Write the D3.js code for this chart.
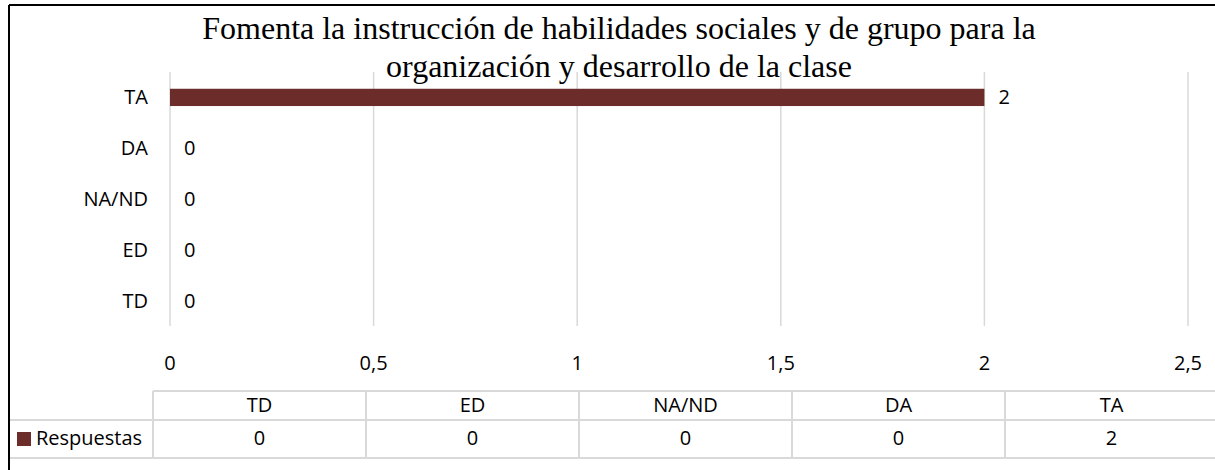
<!DOCTYPE html>
<html>
<head>
<meta charset="utf-8">
<script src="https://cdn.jsdelivr.net/npm/d3@7"></script>
<style>
  body { margin: 0; background: #fff; }
  svg { display: block; }
</style>
</head>
<body>
<div id="chart"></div>
<script>
// Data
const categories = ['TD', 'ED', 'NA/ND', 'DA', 'TA'];
const respuestas = [0, 0, 0, 0, 2];
const xTicks = [0, 0.5, 1, 1.5, 2, 2.5];
const seriesName = 'Respuestas';
const titleLines = [
    'Fomenta la instrucción de habilidades sociales y de grupo para la',
    'organización y desarrollo de la clase'
];

const width = 1215, height = 470;
const barColor = '#6b2c2a';
const gridColor = '#d9d9d9';
const labelFont = '"Open Sans", "Noto Sans", sans-serif';
const labelSize = '20px';
const capShift = 7; // half cap height, to centre text vertically

const svg = d3.select('#chart').append('svg')
    .attr('width', width)
    .attr('height', height);

// outer frame (left and top edges visible)
svg.append('line').attr('x1', 9).attr('y1', 5).attr('x2', width).attr('y2', 5)
    .style('stroke', '#000').style('stroke-width', 2);
svg.append('line').attr('x1', 9).attr('y1', 5).attr('x2', 9).attr('y2', height)
    .style('stroke', '#000').style('stroke-width', 2);

// title
svg.append('text')
    .attr('text-anchor', 'middle')
    .style('font-family', '"Liberation Serif", "Times New Roman", serif')
    .style('font-size', '32px')
    .style('fill', '#000')
    .selectAll('tspan')
    .data(titleLines)
    .join('tspan')
    .attr('x', 619)
    .attr('y', (d, i) => 39 + i * 38)
    .text(d => d);

// scales
const x = d3.scaleLinear().domain([0, 2.5]).range([170, 1188]);
const y = d3.scaleBand().domain(categories.slice().reverse()).range([72, 326]).paddingInner(0.66).paddingOuter(0.33);

// gridlines
svg.append('g')
    .selectAll('line')
    .data(xTicks)
    .join('line')
    .attr('x1', d => x(d)).attr('x2', d => x(d))
    .attr('y1', 72).attr('y2', 326)
    .style('stroke', gridColor)
    .style('stroke-width', 1.5);

// x axis labels
const fmt = d => String(d).replace('.', ',');
svg.append('g')
    .selectAll('text')
    .data(xTicks)
    .join('text')
    .attr('x', d => x(d))
    .attr('y', 363 + capShift)
    .attr('text-anchor', 'middle')
    .style('font-family', labelFont)
    .style('font-size', labelSize)
    .style('fill', '#000')
    .text(fmt);

// category labels
const rows = categories.map((c, i) => ({ cat: c, value: respuestas[i] }));
svg.append('g')
    .selectAll('text')
    .data(rows)
    .join('text')
    .attr('x', 148)
    .attr('y', d => y(d.cat) + y.bandwidth() / 2 + capShift)
    .attr('text-anchor', 'end')
    .style('font-family', labelFont)
    .style('font-size', labelSize)
    .style('fill', '#000')
    .text(d => d.cat);

// bars
svg.append('g')
    .selectAll('rect')
    .data(rows)
    .join('rect')
    .attr('x', x(0))
    .attr('y', d => y(d.cat))
    .attr('width', d => x(d.value) - x(0))
    .attr('height', y.bandwidth())
    .style('fill', barColor);

// data labels
svg.append('g')
    .selectAll('text')
    .data(rows)
    .join('text')
    .attr('x', d => x(d.value) + 14)
    .attr('y', d => y(d.cat) + y.bandwidth() / 2 + capShift)
    .style('font-family', labelFont)
    .style('font-size', labelSize)
    .style('fill', '#000')
    .text(d => d.value);

// data table
const tableLeft = 153, colW = 213;
const rowTop = 391, rowMid = 420, rowBot = 458;
const table = svg.append('g').style('stroke', gridColor).style('stroke-width', 2);
table.append('line').attr('x1', tableLeft).attr('x2', width).attr('y1', rowTop).attr('y2', rowTop);
table.append('line').attr('x1', 10).attr('x2', width).attr('y1', rowMid).attr('y2', rowMid);
table.append('line').attr('x1', 10).attr('x2', width).attr('y1', rowBot).attr('y2', rowBot);
table.selectAll('line.v')
    .data(d3.range(categories.length))
    .join('line')
    .attr('class', 'v')
    .attr('x1', i => tableLeft + i * colW).attr('x2', i => tableLeft + i * colW)
    .attr('y1', rowTop).attr('y2', rowBot);

svg.append('g')
    .selectAll('text')
    .data(rows)
    .join('text')
    .attr('x', (d, i) => tableLeft + i * colW + colW / 2)
    .attr('y', 405 + capShift)
    .attr('text-anchor', 'middle')
    .style('font-family', labelFont)
    .style('font-size', labelSize)
    .style('fill', '#000')
    .text(d => d.cat);

svg.append('g')
    .selectAll('text')
    .data(rows)
    .join('text')
    .attr('x', (d, i) => tableLeft + i * colW + colW / 2)
    .attr('y', 438 + capShift)
    .attr('text-anchor', 'middle')
    .style('font-family', labelFont)
    .style('font-size', labelSize)
    .style('fill', '#000')
    .text(d => d.value);

// legend key in table
svg.append('rect')
    .attr('x', 17).attr('y', 432).attr('width', 14).attr('height', 14)
    .style('fill', barColor);
svg.append('text')
    .attr('x', 36).attr('y', 438 + capShift)
    .style('font-family', labelFont)
    .style('font-size', labelSize)
    .style('fill', '#000')
    .text(seriesName);
</script>
</body>
</html>
